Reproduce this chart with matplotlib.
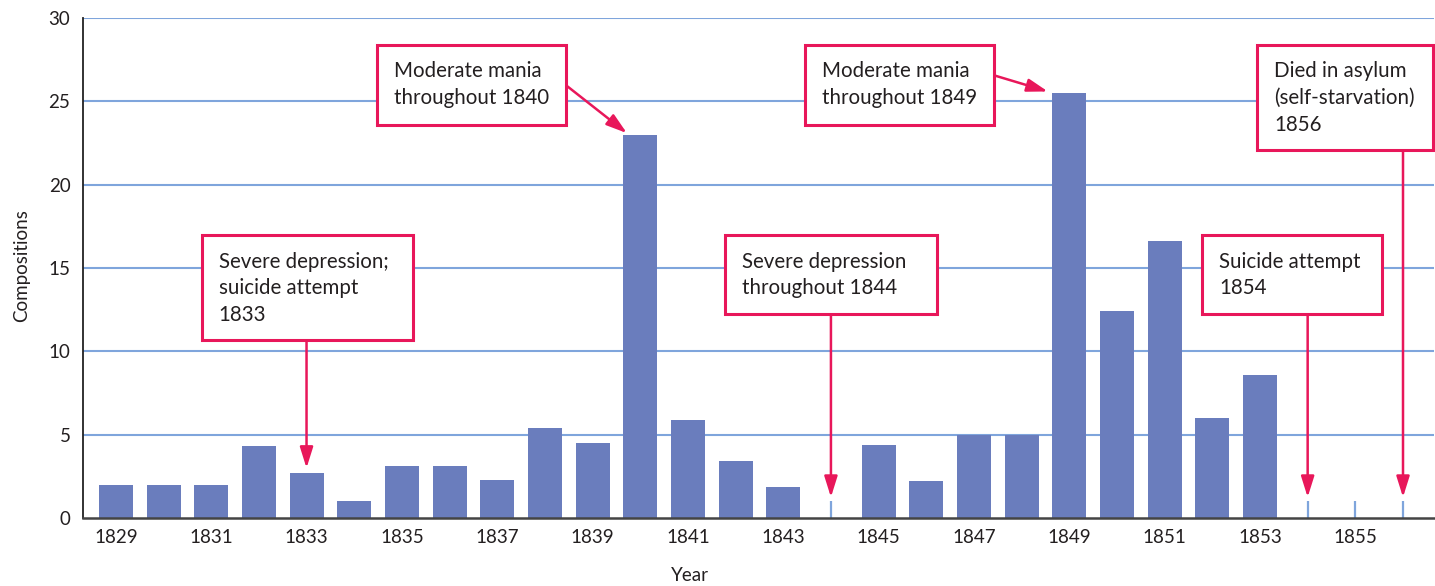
import matplotlib.pyplot as plt
from matplotlib.patches import Rectangle

# yearly number of compositions
years = list(range(1829, 1857))
counts = [2, 2, 2, 4.3, 2.7, 1, 3.1, 3.1, 2.3, 5.4, 4.5, 23, 5.9, 3.4, 1.85,
          0, 4.4, 2.2, 5, 5, 25.5, 12.4, 16.6, 6, 8.6, 0, 0, 0]

tick_years = list(range(1829, 1857, 2))
y_ticks = [0, 5, 10, 15, 20, 25, 30]

# event notes: text, box (left, right, bottom, top), arrow start, arrow tip
notes = [
    ("Severe depression;\nsuicide attempt\n1833", (1830.8, 1835.23, 10.7, 16.98), (1833, 10.7), (1833, 3.0)),
    ("Moderate mania\nthroughout 1840", (1834.48, 1838.44, 23.6, 28.4), (1838.44, 25.98), (1839.72, 23.1)),
    ("Severe depression\nthroughout 1844", (1841.78, 1846.22, 12.25, 16.98), (1844, 12.25), (1844, 1.25)),
    ("Moderate mania\nthroughout 1849", (1843.45, 1847.42, 23.6, 28.4), (1847.42, 26.57), (1848.55, 25.6)),
    ("Suicide attempt\n1854", (1851.78, 1855.56, 12.25, 16.98), (1854, 12.25), (1854, 1.25)),
    ("Died in asylum\n(self-starvation)\n1856", (1852.94, 1856.62, 22.1, 28.4), (1856, 22.1), (1856, 1.25)),
]

bar_color = "#6a7dbd"
grid_color = "#7fa5dc"
note_color = "#e8175a"
text_color = "#231f20"

plt.rcParams["font.family"] = ["Lato", "DejaVu Sans"]

fig = plt.figure(figsize=(14.35, 5.86), dpi=100)
ax = fig.add_axes([0.0578, 0.116, 0.9415, 0.853])

for y in y_ticks[1:]:
    ax.axhline(y, color=grid_color, lw=1.5, zorder=1)

ax.bar(years, counts, width=0.713, color=bar_color, zorder=2)

# years with nothing written get a small marker
empty = [yr for yr, c in zip(years, counts) if c == 0]
ax.vlines(empty, 0, 1.05, color=grid_color, lw=1.6, zorder=2)

for text, (x0, x1, y0, y1), start, tip in notes:
    ax.add_patch(Rectangle((x0, y0), x1 - x0, y1 - y0, facecolor="white",
                           edgecolor=note_color, lw=2.2, zorder=4, clip_on=False))
    ax.text(x0 + 0.36, y1 - 1.0, text, fontsize=14.8, color=text_color,
            va="top", ha="left", linespacing=1.42, zorder=5)
    ax.annotate("", xy=tip, xytext=start, zorder=3,
                arrowprops=dict(arrowstyle="-|>,head_length=0.7,head_width=0.22",
                                color=note_color, lw=1.8, mutation_scale=18,
                                shrinkA=0, shrinkB=0))

ax.set_xlim(1828.31, 1856.65)
ax.set_ylim(0, 30)
ax.set_xticks(tick_years)
ax.set_yticks(y_ticks)
ax.tick_params(length=0, labelsize=13.5, colors=text_color)
ax.tick_params(axis="x", pad=8)
ax.tick_params(axis="y", pad=9)

for side in ["top", "right"]:
    ax.spines[side].set_visible(False)
ax.spines["left"].set_color("#222222")
ax.spines["left"].set_linewidth(1.3)
ax.spines["bottom"].set_color("#444444")
ax.spines["bottom"].set_linewidth(1.8)
ax.spines["bottom"].set_zorder(3)

ax.set_xlabel("Year", fontsize=13.5, color=text_color)
ax.set_ylabel("Compositions", fontsize=13.5, color=text_color)
ax.xaxis.set_label_coords(0.449, -0.098)
ax.yaxis.set_label_coords(-0.039, 0.506)

fig.savefig("out.png", dpi=100)
